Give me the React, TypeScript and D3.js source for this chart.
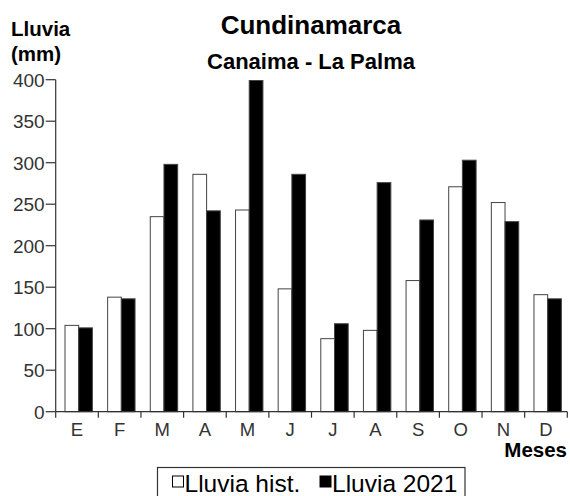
import React from "react";
import * as d3 from "d3";

const months = ["E", "F", "M", "A", "M", "J", "J", "A", "S", "O", "N", "D"];
const lluviaHist = [104, 138, 235, 286, 243, 148, 88, 98, 158, 271, 252, 141];
const lluvia2021 = [101, 136, 298, 242, 399, 286, 106, 276, 231, 303, 229, 136];
const yTicks = [0, 50, 100, 150, 200, 250, 300, 350, 400];
const seriesKeys = ["hist", "2021"];
const seriesNames = ["Lluvia hist.", "Lluvia 2021"];
const seriesFill = ["#ffffff", "#000000"];

const FONT = "'Liberation Sans', Arial, sans-serif";

export default function App() {
  const W = 570;
  const H = 496;
  const x0 = 55.7;
  const x1 = 567.3;
  const yBottom = 411.7;
  const yTop = 79.7;

  const x = d3
    .scaleBand<number>()
    .domain(months.map((_, i) => i))
    .range([x0, x1])
    .padding(0);
  const inner = d3
    .scaleBand<string>()
    .domain(seriesKeys)
    .range([9.3, 9.3 + 27.4])
    .padding(0);
  const y = d3.scaleLinear().domain([0, 400]).range([yBottom, yTop]);

  const data = [lluviaHist, lluvia2021];

  return (
    <svg
      width={W}
      height={H}
      style={{ position: "absolute", left: 0, top: 0, background: "#fff" }}
      fontFamily={FONT}
    >
      {/* titles */}
      <text x={311} y={34} textAnchor="middle" fontSize={26} fontWeight="bold" fill="#000">
        Cundinamarca
      </text>
      <text x={311} y={69} textAnchor="middle" fontSize={22} fontWeight="bold" fill="#000">
        Canaima - La Palma
      </text>
      <text x={11} y={36} fontSize={20.5} fontWeight="bold" fill="#000">
        Lluvia
      </text>
      <text x={11} y={61} fontSize={20.5} fontWeight="bold" fill="#000">
        (mm)
      </text>

      {/* bars */}
      {data.map((series, s) =>
        series.map((v, i) => (
          <rect
            key={`${s}-${i}`}
            x={(x(i) as number) + (inner(seriesKeys[s]) as number)}
            y={y(v)}
            width={inner.bandwidth()}
            height={yBottom - y(v)}
            fill={seriesFill[s]}
            stroke="#444"
            strokeWidth={1}
          />
        ))
      )}

      {/* y axis */}
      <line x1={x0} x2={x0} y1={yTop} y2={yBottom} stroke="#333" strokeWidth={1.2} />
      {yTicks.map((t) => (
        <g key={t}>
          <line x1={x0 - 10} x2={x0} y1={y(t)} y2={y(t)} stroke="#333" strokeWidth={1.2} />
          <text
            x={x0 - 11}
            y={y(t)}
            dy="0.36em"
            textAnchor="end"
            fontSize={19}
            fill="#333"
          >
            {t}
          </text>
        </g>
      ))}

      {/* x axis */}
      <line x1={x0} x2={x1} y1={yBottom} y2={yBottom} stroke="#333" strokeWidth={1.2} />
      {months.map((_, i) => (
        <line
          key={`t${i}`}
          x1={x(i) as number}
          x2={x(i) as number}
          y1={yBottom}
          y2={yBottom + 6}
          stroke="#333"
          strokeWidth={1.2}
        />
      ))}
      <line x1={x1} x2={x1} y1={yBottom} y2={yBottom + 6} stroke="#333" strokeWidth={1.2} />
      {months.map((m, i) => (
        <text
          key={`l${i}`}
          x={(x(i) as number) + x.bandwidth() / 2}
          y={436}
          textAnchor="middle"
          fontSize={18.5}
          fill="#333"
        >
          {m}
        </text>
      ))}
      <text x={567} y={457} textAnchor="end" fontSize={20.5} fontWeight="bold" fill="#000">
        Meses
      </text>

      {/* legend */}
      <rect x={157.5} y={467.5} width={307.5} height={40} fill="none" stroke="#333" strokeWidth={1.2} />
      {seriesNames.map((name, s) => {
        const lx = s === 0 ? 172.5 : 320;
        return (
          <g key={name}>
            <rect
              x={lx}
              y={476}
              width={11}
              height={11}
              fill={seriesFill[s]}
              stroke="#000"
              strokeWidth={1}
            />
            <text x={lx + 12} y={491.5} fontSize={24.5} fill="#000">
              {name}
            </text>
          </g>
        );
      })}
    </svg>
  );
}
